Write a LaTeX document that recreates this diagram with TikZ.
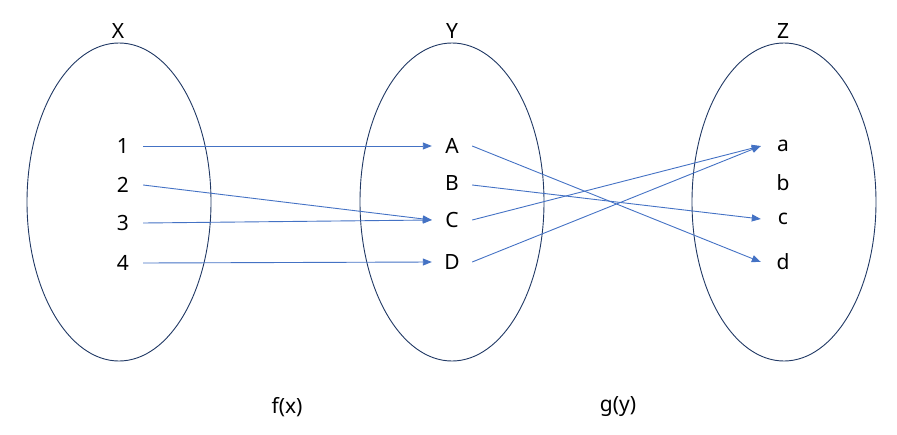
\documentclass[tikz,border=0pt]{standalone}
\usepackage{fontspec}
\setmainfont{Noto Sans}
\usetikzlibrary{arrows.meta}
\definecolor{arrowblue}{HTML}{4472C4}
\definecolor{setline}{HTML}{203864}
\begin{document}
\begin{tikzpicture}[x=1pt,y=-1pt,
  lbl/.style={inner sep=0pt,minimum width=40pt,minimum height=20pt,font=\fontsize{21}{24}\selectfont},
  setname/.style={inner sep=0pt,font=\fontsize{21}{24}\selectfont},
  setell/.style={draw=setline,line width=0.9pt},
  mapto/.style={draw=arrowblue,line width=0.9pt,-{Triangle[length=9pt,width=7pt]}}]
\useasboundingbox (0,0) rectangle (897,434);
\draw[setell] (119,202) ellipse [x radius=92, y radius=159];
\draw[setell] (452,202) ellipse [x radius=92, y radius=159];
\draw[setell] (784,202) ellipse [x radius=92, y radius=159];
\node[setname] (X) at (118,31) {X};
\node[setname] (Y) at (452,31) {Y};
\node[setname] (Z) at (783,31) {Z};
\node[lbl] (n1) at (123,146) {1};
\node[lbl] (n2) at (123,185) {2};
\node[lbl] (n3) at (123,223) {3};
\node[lbl] (n4) at (123,263) {4};
\node[lbl] (A) at (452,146) {A};
\node[lbl] (B) at (452,183) {B};
\node[lbl] (C) at (452,220) {C};
\node[lbl] (D) at (452,262) {D};
\node[lbl] (a) at (783,146) {a};
\node[lbl] (b) at (783,183) {b};
\node[lbl] (c) at (783,219) {c};
\node[lbl] (d) at (783,262) {d};
\node[setname] (f) at (287,407) {f(x)};
\node[setname] (g) at (618,407) {g(y)};
\draw[mapto] (n1.east) -- (A.west);
\draw[mapto] (n2.east) -- (C.west);
\draw[mapto] (n3.east) -- (C.west);
\draw[mapto] (n4.east) -- (D.west);
\draw[mapto] (A.east) -- ([xshift=-2pt]d.west);
\draw[mapto] ([yshift=-2pt]B.east) -- ([xshift=-2pt]c.west);
\draw[mapto] (C.east) -- ([xshift=-2pt]a.west);
\draw[mapto] (D.east) -- ([xshift=-2pt]a.west);
\end{tikzpicture}
\end{document}
